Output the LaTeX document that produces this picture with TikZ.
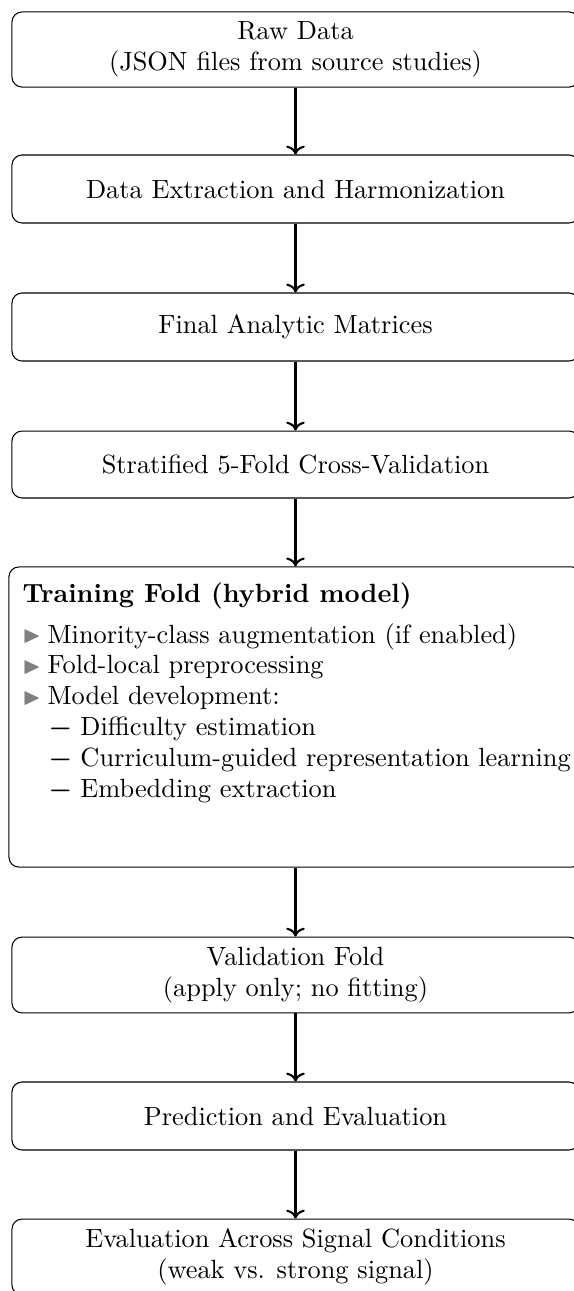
\documentclass[tikz,border=0pt]{standalone}
\usepackage{amssymb}
\usetikzlibrary{arrows.meta}
\newcommand\flowfont{\fontsize{10}{11.69}\selectfont}
\newcommand\tri{\makebox[9.5pt][l]{\textcolor{gray}{\raisebox{0.2pt}{\scalebox{0.9}{$\blacktriangleright$}}}}}
\newcommand\subdash{\hspace*{9.9pt}\makebox[12.1pt][l]{{\boldmath$-$}}}
\begin{document}
% coordinates are given in pixel-like units of 0.3795 pt
\begin{tikzpicture}[x=0.3795pt,y=-0.3795pt,
  flowbox/.style={draw, rounded corners=3.8pt, line width=0.4pt,
    minimum width=215.2pt, align=center, font=\flowfont, inner sep=0pt},
  flowarrow/.style={->, line width=0.8pt}]
\useasboundingbox (0,0) rectangle (574,1291);

\node[flowbox, minimum height=28.5pt] (raw) at (295.5,49.5)
  {Raw Data\\(JSON files from source studies)};
\node[flowbox, minimum height=25.8pt] (extract) at (295.5,189)
  {Data Extraction and Harmonization};
\node[flowbox, minimum height=25.8pt] (matrices) at (295.5,327)
  {Final Analytic Matrices};
\node[flowbox, minimum height=25.4pt] (cv) at (295.5,464.5)
  {Stratified 5-Fold Cross-Validation};
\node[flowbox, minimum width=217.5pt, minimum height=113.9pt] (train) at (295.5,717) {};
\node[anchor=north west, align=left, font=\flowfont, inner sep=0pt] (traintext) at (22,582)
  {\textbf{Training Fold (hybrid model)}\\[3.8pt]
   \tri Minority-class augmentation (if enabled)\\
   \tri Fold-local preprocessing\\
   \tri Model development:\\
   \subdash Difficulty estimation\\
   \subdash Curriculum-guided representation learning\\
   \subdash Embedding extraction};
\node[flowbox, minimum height=28.8pt] (valid) at (295.5,975)
  {Validation Fold\\(apply only; no fitting)};
\node[flowbox, minimum height=25.8pt] (pred) at (295.5,1116)
  {Prediction and Evaluation};
\node[flowbox, minimum height=28.8pt] (evalsig) at (295.5,1257)
  {Evaluation Across Signal Conditions\\(weak vs. strong signal)};

\draw[flowarrow] (raw.south) -- (extract.north);
\draw[flowarrow] (extract.south) -- (matrices.north);
\draw[flowarrow] (matrices.south) -- (cv.north);
\draw[flowarrow] (cv.south) -- (train.north);
\draw[flowarrow] (train.south) -- (valid.north);
\draw[flowarrow] (valid.south) -- (pred.north);
\draw[flowarrow] (pred.south) -- (evalsig.north);
\end{tikzpicture}
\end{document}
